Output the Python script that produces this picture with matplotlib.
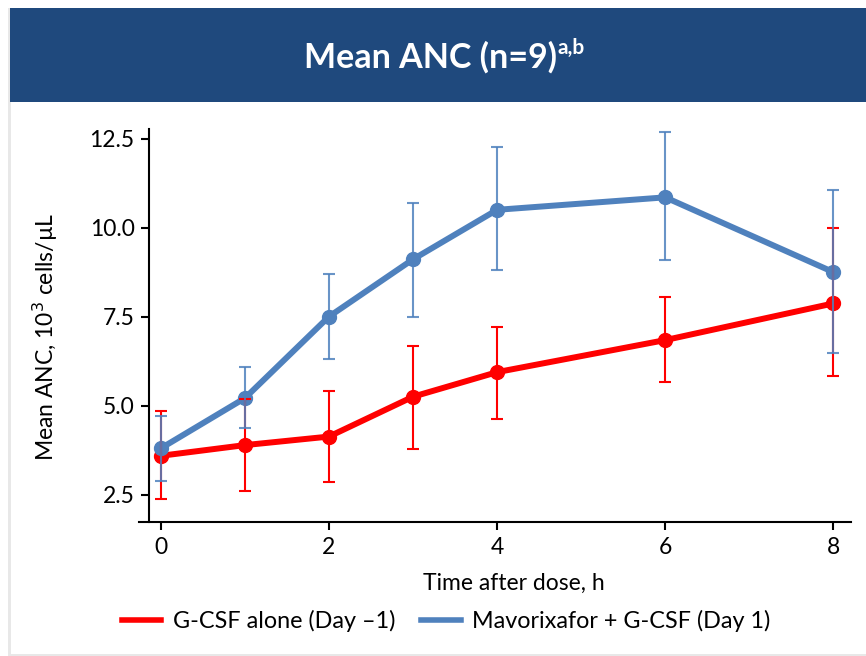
import matplotlib
matplotlib.use("Agg")
import matplotlib.pyplot as plt
from matplotlib.patches import Rectangle
from matplotlib.lines import Line2D

plt.rcParams['font.family'] = ['Lato', 'DejaVu Sans']

# ---- data ----
time_h = [0, 1, 2, 3, 4, 6, 8]
gcsf_mean = [3.60, 3.90, 4.14, 5.26, 5.95, 6.85, 7.88]
gcsf_upper = [4.86, 5.20, 5.43, 6.69, 7.21, 8.07, 10.01]
gcsf_lower = [2.39, 2.62, 2.87, 3.79, 4.64, 5.67, 5.84]
mavo_mean = [3.81, 5.22, 7.51, 9.12, 10.51, 10.86, 8.76]
mavo_upper = [4.73, 6.09, 8.72, 10.70, 12.27, 12.69, 11.08]
mavo_lower = [2.89, 4.38, 6.31, 7.50, 8.82, 9.10, 6.48]
y_ticks = [2.5, 5.0, 7.5, 10.0, 12.5]
x_ticks = [0, 2, 4, 6, 8]
series_labels = ["G-CSF alone (Day \u20131)", "Mavorixafor + G-CSF (Day 1)"]
title_main = "Mean ANC (n=9)"
title_sup = "a,b"
x_label = "Time after dose, h"

W, H = 866, 656
RED = "#FF0000"
BLUE = "#4F81BD"
FS = 16.5

fig = plt.figure(figsize=(W / 100, H / 100), dpi=100)


def fx(x):
    return x / W


def fy(y):
    return 1 - y / H


# panel shadow/border
fig.patches.append(Rectangle((fx(8), fy(655)), fx(4), fy(8) - fy(655), transform=fig.transFigure,
                             facecolor="#E8E8E8", edgecolor="none", zorder=-3))
fig.patches.append(Rectangle((fx(8), fy(656)), 1, fy(654) - fy(656), transform=fig.transFigure,
                             facecolor="#E8E8E8", edgecolor="none", zorder=-3))
fig.patches.append(Rectangle((fx(11), fy(654)), 1, fy(8) - fy(654), transform=fig.transFigure,
                             facecolor="white", edgecolor="none", zorder=-2))
# header
fig.patches.append(Rectangle((fx(10), fy(102)), 1, fy(8) - fy(102), transform=fig.transFigure,
                             facecolor="#1F497D", edgecolor="none", zorder=-1))

ax = fig.add_axes([fx(139), fy(522), fx(851) - fx(139), fy(129) - fy(522)])
ax.set_zorder(5)
ax.patch.set_alpha(0)
ax.set_xlim(-0.26, 8.21)
ax.set_ylim(1.74, 12.78)

ax.plot(time_h, gcsf_mean, color=RED, lw=4.3, marker='o', ms=10, zorder=3, solid_capstyle='round')
ax.plot(time_h, mavo_mean, color=BLUE, lw=4.3, marker='o', ms=10, zorder=4, solid_capstyle='round')

g_err = [[m - l for m, l in zip(gcsf_mean, gcsf_lower)], [u - m for m, u in zip(gcsf_mean, gcsf_upper)]]
m_err = [[m - l for m, l in zip(mavo_mean, mavo_lower)], [u - m for m, u in zip(mavo_mean, mavo_upper)]]
ax.errorbar(time_h, gcsf_mean, yerr=g_err, fmt='none', ecolor=RED, elinewidth=1.5,
            capsize=4.5, capthick=1.5, zorder=5)
ax.errorbar(time_h, mavo_mean, yerr=m_err, fmt='none', ecolor=BLUE, elinewidth=1.5,
            capsize=4.5, capthick=1.5, zorder=6, alpha=0.85)

for s in ['top', 'right']:
    ax.spines[s].set_visible(False)
ax.spines['left'].set_position(('data', -0.146))
ax.spines['left'].set_linewidth(1.5)
ax.spines['bottom'].set_linewidth(1.5)
ax.set_xticks(x_ticks)
ax.set_yticks(y_ticks)
ax.set_yticklabels([f"{v:.1f}" for v in y_ticks])
ax.tick_params(axis='both', labelsize=FS, width=1.5, length=6, colors='black')
ax.tick_params(axis='x', pad=5)
ax.tick_params(axis='y', pad=4)

fig.text(fx(45), fy(337), "Mean ANC, 10$^{3}$ cells/\u00b5L", rotation=90, ha='center', va='center',
         fontsize=FS)
fig.text(fx(514), fy(583), x_label, ha='center', va='center', fontsize=FS)

# title with superscript
t = fig.text(fx(430), fy(57), title_main, ha='center', va='center', fontsize=24.5,
             fontweight='bold', color='white')
fig.canvas.draw()
bb = t.get_window_extent()
fig.text(bb.x1 / W + 0.001, fy(48), title_sup, ha='left', va='center', fontsize=15,
         fontweight='bold', color='white')

handles = [Line2D([0], [0], color=RED, lw=4), Line2D([0], [0], color=BLUE, lw=4)]
fig.legend(handles, series_labels, loc='center', bbox_to_anchor=(fx(446), fy(621)), ncol=2,
           frameon=False, fontsize=16.8, handlelength=1.7, handletextpad=0.5, columnspacing=1.1)

fig.savefig("out.png", dpi=100, facecolor='white')
